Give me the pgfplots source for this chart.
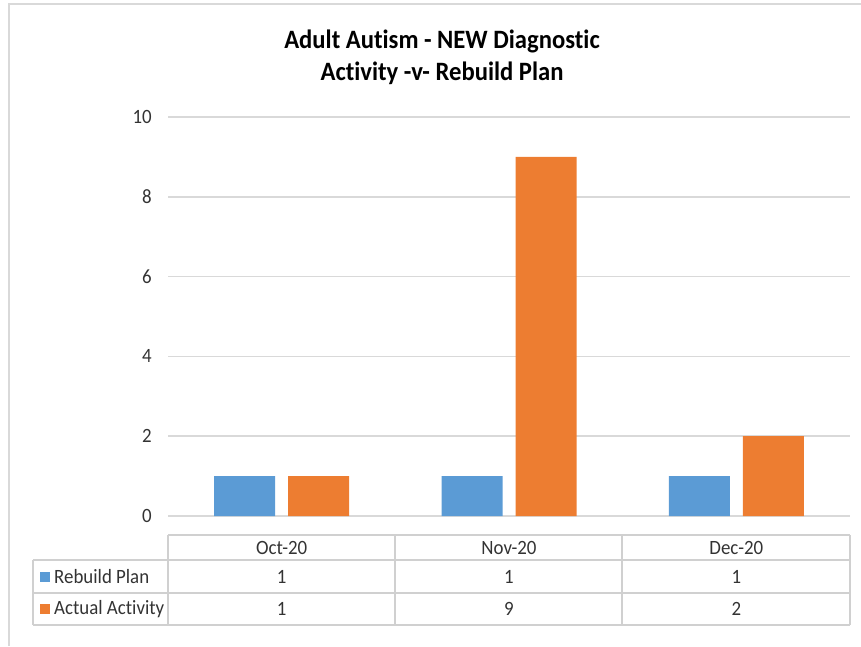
\documentclass[border=0pt]{standalone}
\usepackage{pgfplots}
\pgfplotsset{compat=1.18}
\usepackage{fontspec}
\setmainfont{Carlito}[Ligatures=NoCommon, FakeStretch=0.93]
\definecolor{cblue}{HTML}{5B9BD5}
\definecolor{corange}{HTML}{ED7D31}
\definecolor{gridc}{HTML}{D9D9D9}
\definecolor{tabc}{HTML}{D0D0D0}
\definecolor{txt}{HTML}{333333}
\newcommand{\bodyfont}{\fontsize{20.3}{24}\selectfont}
\begin{document}
\begin{tikzpicture}
\begin{axis}[
  at={(168pt,130pt)}, anchor=south west,
  scale only axis, width=682pt, height=399pt,
  xmin=-0.5, xmax=2.5, ymin=0, ymax=10,
  ybar, bar width=61pt,
  clip=false,
  axis line style={draw=none},
  major tick length=0pt,
  ytick={0,2,4,6,8,10},
  xtick={0,1,2}, xticklabels={Oct-20,Nov-20,Dec-20},
  ymajorgrids, grid style={gridc, line width=1.5pt},
  /pgf/number format/assume math mode=true,
  yticklabel style={font=\bodyfont, text=txt, anchor=east, inner sep=0pt, xshift=-16pt},
  xticklabel style={font=\bodyfont, text=txt, anchor=center, inner sep=0pt, yshift=-31.5pt},
]
\addplot[fill=cblue, draw=none, bar shift=-37pt] coordinates {(0,1) (1,1) (2,1)};
\addplot[fill=corange, draw=none, bar shift=37pt] coordinates {(0,1) (1,9) (2,2)};
% data table values
\foreach \xx/\va/\vb in {0/1/1, 1/1/9, 2/1/2} {
  \edef\tmp{\noexpand\node[font=\noexpand\bodyfont, text=txt, anchor=center, inner sep=0pt] at (axis cs:\xx,0) [yshift=-60.5pt] {\va};
  \noexpand\node[font=\noexpand\bodyfont, text=txt, anchor=center, inner sep=0pt] at (axis cs:\xx,0) [yshift=-93pt] {\vb};}
  \tmp
}
\end{axis}
% title
\node[font=\fontsize{26.5}{32}\selectfont\bfseries, align=center, anchor=center] at (442pt,589pt) {Adult Autism - NEW Diagnostic\\Activity -v- Rebuild Plan};
% table grid
\begin{scope}[draw=tabc, line width=1.3pt]
\draw (168pt,111pt) -- (850pt,111pt);
\draw (33pt,86pt) -- (850pt,86pt);
\draw (33pt,53pt) -- (850pt,53pt);
\draw (33pt,21pt) -- (850pt,21pt);
\foreach \vx in {168,395,622,850} {\draw (\vx pt,111pt) -- (\vx pt,21pt);}
\draw (33pt,86pt) -- (33pt,21pt);
\end{scope}
% legend keys in table
\fill[cblue] (40pt,64.5pt) rectangle (50pt,74.5pt);
\fill[corange] (40pt,32pt) rectangle (50pt,42pt);
\node[font=\bodyfont, text=txt, anchor=west, inner sep=0pt] at (54pt,69.5pt) {Rebuild Plan};
\node[font=\bodyfont, text=txt, anchor=west, inner sep=0pt] at (54pt,37pt) {Actual Activity};
% outer chart border
\draw[gridc, line width=2pt] (9pt,0pt) -- (9pt,642pt) -- (861pt,642pt);
\pgfresetboundingbox
\useasboundingbox (0pt,0pt) rectangle (861pt,646pt);
\end{tikzpicture}
\end{document}
